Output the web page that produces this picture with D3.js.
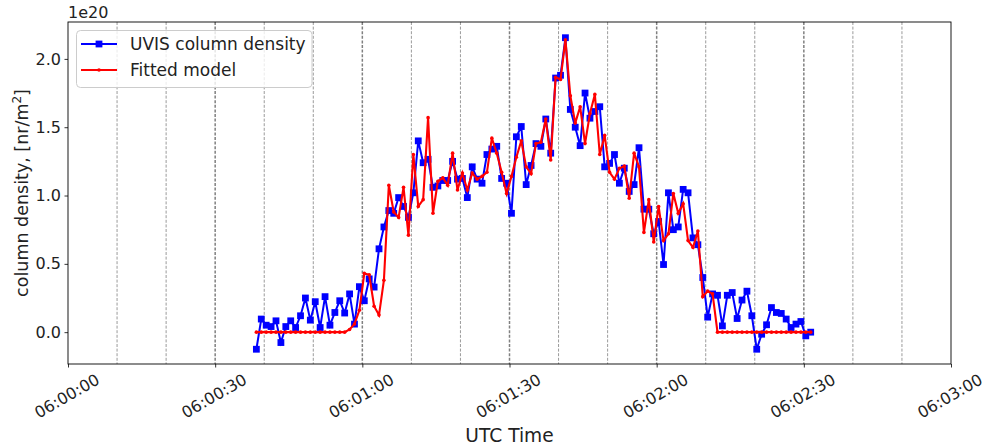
<!DOCTYPE html>
<html>
<head>
<meta charset="utf-8">
<script src="https://cdn.jsdelivr.net/npm/d3@7/dist/d3.min.js"></script>
<style>
  html, body { margin: 0; padding: 0; background: #fff; }
  svg { display: block; font-family: "DejaVu Sans", sans-serif; }
</style>
</head>
<body>
<svg id="chart" width="985" height="445"></svg>
<script>
// seconds after 06:00:00 UTC
const times = [
  38.4,39.4,40.4,41.4,42.4,43.4,44.4,45.4,46.4,47.4,
  48.4,49.4,50.4,51.4,52.4,53.4,54.4,55.4,56.4,57.4,
  58.4,59.4,60.4,61.4,62.4,63.4,64.4,65.4,66.4,67.4,
  68.4,69.4,70.4,71.4,72.4,73.4,74.4,75.4,76.4,77.4,
  78.4,79.4,80.4,81.4,82.4,83.4,84.4,85.4,86.4,87.4,
  88.4,89.4,90.4,91.4,92.4,93.4,94.4,95.4,96.4,97.4,
  98.4,99.4,100.4,101.4,102.4,103.4,104.4,105.4,106.4,107.4,
  108.4,109.4,110.4,111.4,112.4,113.4,114.4,115.4,116.4,117.4,
  118.4,119.4,120.4,121.4,122.4,123.4,124.4,125.4,126.4,127.4,
  128.4,129.4,130.4,131.4,132.4,133.4,134.4,135.4,136.4,137.4,
  138.4,139.4,140.4,141.4,142.4,143.4,144.4,145.4,146.4,147.4,
  148.4,149.4,150.4,151.4
];
// column density, units of 1e20 nr/m^2
const uvisDensity = [
  -0.125,0.096,0.051,0.041,0.083,-0.076,0.041,0.083,0.034,0.12,
  0.25,0.088,0.223,0.034,0.26,0.051,0.144,0.23,0.14,0.28,
  0.059,0.333,0.23,0.39,0.33,0.61,0.77,0.89,0.87,0.985,
  0.92,0.84,1.02,1.40,1.24,1.265,1.06,1.07,1.11,1.11,
  1.25,1.12,1.125,0.985,1.21,1.12,1.09,1.30,1.34,1.36,
  1.125,1.09,0.87,1.43,1.505,1.08,1.22,1.38,1.36,1.56,
  1.31,1.86,1.88,2.155,1.63,1.50,1.365,1.75,1.566,1.615,
  1.65,1.21,1.235,1.30,1.09,1.20,1.03,1.08,1.35,0.90,
  0.90,0.72,0.81,0.495,1.02,0.75,0.77,1.045,1.02,0.69,
  0.64,0.40,0.11,0.28,0.27,0.046,0.27,0.29,0.10,0.235,
  0.30,0.12,-0.125,-0.015,0.054,0.18,0.144,0.137,0.096,0.034,
  0.059,0.078,-0.027,0.0
];
const fittedModel = [
  0,0,0,0,0,0,0,0,0,0,
  0,0,0,0,0,0,0,0,0,0.02,
  0.06,0.16,0.43,0.42,0.19,0.125,0.38,1.075,0.88,0.84,
  1.06,0.71,1.30,0.92,0.97,1.57,0.87,1.105,1.13,1.075,
  1.31,1.04,1.165,1.04,1.165,1.12,1.14,1.17,1.42,1.31,
  1.17,1.015,1.14,1.28,1.40,1.21,1.16,1.38,1.39,1.56,
  1.26,1.865,1.85,2.14,1.73,1.53,1.65,1.38,1.60,1.74,
  1.30,1.44,1.17,1.12,1.20,1.215,0.98,1.31,1.21,0.73,
  0.97,0.66,0.92,0.67,0.72,1.015,0.87,0.94,0.67,0.62,
  0.74,0.26,0.30,0.28,0,0,0,0,0,0,
  0,0,0,0,0,0,0,0,0,0,
  0,0,0,0
];
const xTickValues = [0,30,60,90,120,150,180];
const xTickLabels = ["06:00:00","06:00:30","06:01:00","06:01:30","06:02:00","06:02:30","06:03:00"];
const xMinorValues = [10,20,40,50,70,80,100,110,130,140,160,170];
const yTickValues = [0,0.5,1.0,1.5,2.0];
const seriesNames = ["UVIS column density","Fitted model"];

const svg = d3.select("#chart");
const M = {left:68, right:951, top:22, bottom:364};

const x = d3.scaleLinear().domain([0,180]).range([M.left, M.right]);
const y = d3.scaleLinear().domain([-0.233, 2.27]).range([M.bottom, M.top]);

const uvis = times.map((t,i)=>({t, v:uvisDensity[i]}));
const fit = times.map((t,i)=>({t, v:fittedModel[i]}));

// grid
const gGrid = svg.append("g");
gGrid.selectAll("line.minor").data(xMinorValues).join("line")
  .attr("x1", d=>x(d)).attr("x2", d=>x(d))
  .attr("y1", M.top).attr("y2", M.bottom)
  .attr("stroke", "#8f8f8f").attr("stroke-width", 0.9)
  .attr("stroke-dasharray", "3,1.6");
gGrid.selectAll("line.major").data(xTickValues.slice(1,-1)).join("line")
  .attr("x1", d=>x(d)).attr("x2", d=>x(d))
  .attr("y1", M.top).attr("y2", M.bottom)
  .attr("stroke", "#808080").attr("stroke-width", 1.5)
  .attr("stroke-dasharray", "3,1.6");

// series
const line = d3.line().x(d=>x(d.t)).y(d=>y(d.v));
svg.append("clipPath").attr("id","clip").append("rect")
  .attr("x", M.left).attr("y", M.top).attr("width", M.right-M.left).attr("height", M.bottom-M.top);
const gData = svg.append("g").attr("clip-path","url(#clip)");

gData.append("path").datum(uvis).attr("d", line)
  .attr("fill","none").attr("stroke","#0000ff").attr("stroke-width",2);
gData.selectAll("rect.m").data(uvis).join("rect")
  .attr("x", d=>x(d.t)-3.4).attr("y", d=>y(d.v)-3.4)
  .attr("width",6.8).attr("height",6.8).attr("fill","#0000ff");

gData.append("path").datum(fit).attr("d", line)
  .attr("fill","none").attr("stroke","#ff0000").attr("stroke-width",2.1);
gData.selectAll("circle.m").data(fit).join("circle")
  .attr("cx", d=>x(d.t)).attr("cy", d=>y(d.v)).attr("r",1.8).attr("fill","#ff0000");

// axes
const xAxis = d3.axisBottom(x).tickValues(xTickValues).tickSize(3.5).tickFormat("");
const gx = svg.append("g").attr("transform",`translate(0,${M.bottom})`).call(xAxis);
gx.select(".domain").remove();
gx.selectAll(".tick line").attr("stroke","#000").attr("stroke-width",0.8);

svg.append("g").selectAll("text").data(xTickValues).join("text")
  .attr("transform", d=>`translate(${x(d)-1},396) rotate(-30)`)
  .attr("text-anchor","middle").attr("dominant-baseline","central")
  .attr("font-size","16px").attr("fill","#222")
  .text((d,i)=>xTickLabels[i]);

const yAxis = d3.axisLeft(y).tickValues(yTickValues).tickSize(3.5).tickPadding(3.5).tickFormat(d3.format(".1f"));
const gy = svg.append("g").attr("transform",`translate(${M.left},0)`).call(yAxis);
gy.select(".domain").remove();
gy.selectAll(".tick line").attr("stroke","#000").attr("stroke-width",0.8);
gy.selectAll(".tick text").attr("font-size","16px").attr("fill","#222")
  .attr("font-family","DejaVu Sans, sans-serif");

// frame
svg.append("rect").attr("x",M.left).attr("y",M.top)
  .attr("width",M.right-M.left).attr("height",M.bottom-M.top)
  .attr("fill","none").attr("stroke","#000").attr("stroke-width",0.9);

// offset text
svg.append("text").attr("x",M.left).attr("y",18).attr("font-size","16px").attr("fill","#222").text("1e20");

// axis labels
svg.append("text").attr("x", (M.left+M.right)/2).attr("y", 442)
  .attr("text-anchor","middle").attr("font-size","18.6px").attr("fill","#222").text("UTC Time");

const yl = svg.append("text")
  .attr("transform",`translate(28,${(M.top+M.bottom)/2}) rotate(-90)`)
  .attr("text-anchor","middle").attr("font-size","17.5px").attr("fill","#222");
yl.append("tspan").text("column density, [nr/m");
yl.append("tspan").attr("baseline-shift","super").attr("font-size","12px").text("2");
yl.append("tspan").text("]");

// legend
const lg = svg.append("g");
lg.append("rect").attr("x",76.5).attr("y",30.5).attr("width",235.5).attr("height",57)
  .attr("rx",4).attr("fill","#fff").attr("fill-opacity",0.8)
  .attr("stroke","#cccccc").attr("stroke-width",1);
const rows = [44, 70];
lg.append("line").attr("x1",81).attr("x2",117).attr("y1",rows[0]).attr("y2",rows[0])
  .attr("stroke","#0000ff").attr("stroke-width",2);
lg.append("rect").attr("x",99-3.4).attr("y",rows[0]-3.4).attr("width",6.8).attr("height",6.8).attr("fill","#0000ff");
lg.append("line").attr("x1",81).attr("x2",117).attr("y1",rows[1]).attr("y2",rows[1])
  .attr("stroke","#ff0000").attr("stroke-width",2.1);
lg.append("circle").attr("cx",99).attr("cy",rows[1]).attr("r",1.8).attr("fill","#ff0000");
lg.selectAll("text").data(seriesNames).join("text")
  .attr("x",130).attr("y",(d,i)=>rows[i]).attr("dominant-baseline","central")
  .attr("font-size","17px").attr("fill","#222").text(d=>d);
</script>
</body>
</html>
